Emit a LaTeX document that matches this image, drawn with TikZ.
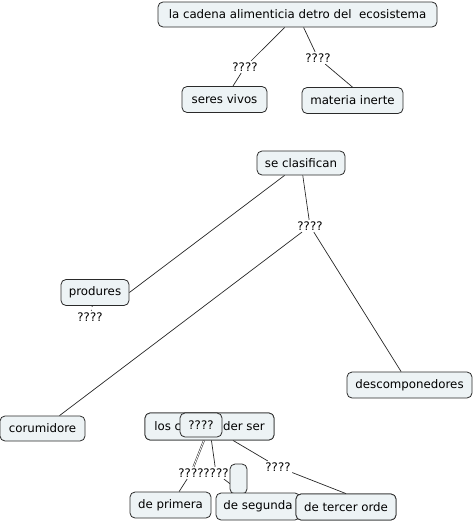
\documentclass[tikz,border=0pt]{standalone}
\usepackage{fontspec}
\setmainfont{DejaVu Sans}
\definecolor{boxfill}{HTML}{EDF3F5}
\definecolor{boxline}{HTML}{2A2A2A}
\tikzset{
  cbox/.style={draw=boxline, fill=boxfill, rounded corners=5pt, inner sep=0pt, line width=0.8pt,
    font=\fontsize{11.8}{13}\selectfont},
  lbl/.style={inner sep=1.5pt, font=\fontsize{11.8}{13}\selectfont},
  conn/.style={draw=black!85, line width=0.7pt},
}
\begin{document}
\begin{tikzpicture}[x=1pt,y=-1pt]
\useasboundingbox (0,0) rectangle (474,522);
% label nodes
\node[lbl] (l1) at (245,67) {????};
\node[lbl] (l2) at (318,58) {????};
\node[lbl] (l3) at (310,226) {????};
\node[lbl] (l4) at (90,317) {????};
\node[lbl] (l5) at (191,473) {????};
\node[lbl] (l6) at (216,473) {????};
\node[lbl] (l8) at (278,467) {????};
% concept nodes
\path
 (297.5,14.5) node[cbox, minimum width=279, minimum height=25] (top) {la cadena alimenticia detro del\ \ ecosistema}
 (224.5,99.5) node[cbox, minimum width=85, minimum height=26] (sv) {seres vivos}
 (352.5,100.5) node[cbox, minimum width=101, minimum height=26] (mi) {materia inerte}
 (301,163) node[cbox, minimum width=88, minimum height=24] (sc) {se clasifican}
 (95,292.5) node[cbox, minimum width=68, minimum height=26] (pr) {produres}
 (409.5,385) node[cbox, minimum width=125, minimum height=26] (de) {descomponedores}
 (42.5,428.5) node[cbox, minimum width=85, minimum height=25] (co) {corumidore}
 (209.5,426.5) node[cbox, minimum width=129, minimum height=27] (los) {los c\hspace{42pt}der ser}
 (201,425) node[cbox, minimum width=42, minimum height=24] (q) {????}
 (170.5,505) node[cbox, minimum width=81, minimum height=26] (p1) {de primera};
% connectors
\draw[conn] (top) -- (l1);
\draw[conn] (l1) -- (sv);
\draw[conn] (top) -- (l2);
\draw[conn] (l2) -- (mi.north);
\draw[conn] (sc) -- (pr.east);
\draw[conn] (sc) -- (l3);
\draw[conn] (l3) -- (co);
\draw[conn] (l3) -- (de);
\draw[conn, dash pattern=on 1pt off 3pt] (pr) -- (l4);
\draw[conn, double=white, double distance=0.8pt, line width=0.5pt] (los) -- (l5);
\draw[conn] (l5) -- (p1);
\draw[conn] (los) -- (l6);
\draw[conn] (los) -- (l8);
% redraw boxes over the lines
\node[cbox, minimum width=129, minimum height=27] at (los) {los c\hspace{42pt}der ser};
\node[cbox, minimum width=42, minimum height=24] at (q) {????};
\node[lbl] (l7) at (250,499) {????};
\draw[conn] (l6) -- (l7);
\node[cbox, minimum width=17, minimum height=30] (sm) at (238.5,479) {};
\path
 (258,506.5) node[cbox, minimum width=84, minimum height=27] (p2) {de segunda}
 (346,507) node[cbox, minimum width=100, minimum height=26] (p3) {de tercer orde};
\draw[conn] (l8) -- (p3.north);
\path (346,507) node[cbox, minimum width=100, minimum height=26] {de tercer orde};
\end{tikzpicture}
\end{document}
